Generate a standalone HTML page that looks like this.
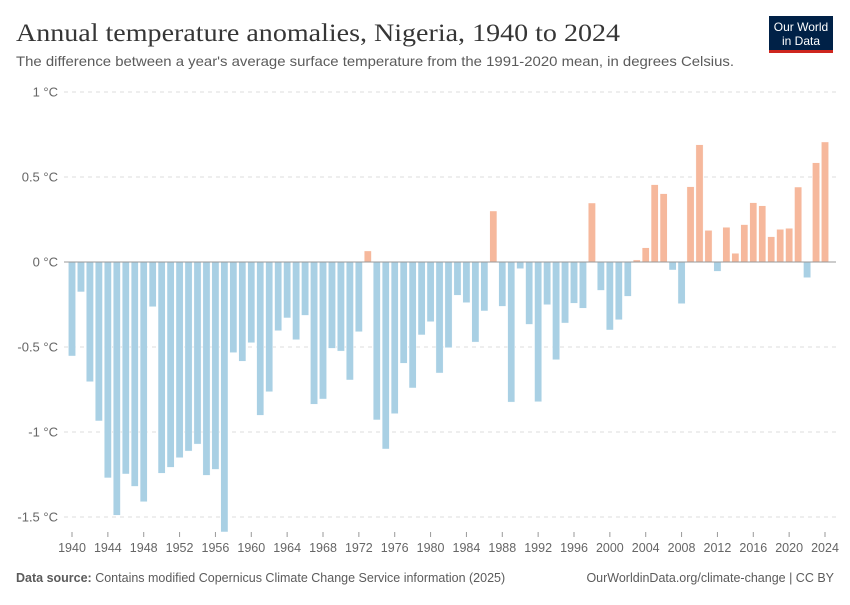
<!DOCTYPE html>
<html><head><meta charset="utf-8"><style>
body{margin:0;background:#fff;width:850px;height:600px;overflow:hidden;font-family:"Liberation Sans",sans-serif}
</style></head><body>
<svg id="chart" width="850" height="600" xmlns="http://www.w3.org/2000/svg">
<text x="16" y="41" font-family="Liberation Serif, serif" font-size="25" fill="#363636" textLength="604" lengthAdjust="spacingAndGlyphs">Annual temperature anomalies, Nigeria, 1940 to 2024</text>
<text x="16" y="66" font-size="14" fill="#5b5b5b" textLength="718" lengthAdjust="spacingAndGlyphs">The difference between a year's average surface temperature from the 1991-2020 mean, in degrees Celsius.</text>
<g>
<rect x="769" y="16" width="64" height="36" fill="#002147"/>
<rect x="769" y="50" width="64" height="3" fill="#ce261e"/>
<text x="801" y="31" font-size="12" fill="#fff" text-anchor="middle">Our World</text>
<text x="801" y="45" font-size="12" fill="#fff" text-anchor="middle">in Data</text>
</g>
<g id="grid"></g><g id="bars"></g><g id="xaxis"></g>
<text x="16" y="582" font-size="12.5" fill="#5b5b5b"><tspan font-weight="bold">Data source:</tspan> Contains modified Copernicus Climate Change Service information (2025)</text>
<text x="834" y="582" font-size="12.5" fill="#5b5b5b" text-anchor="end">OurWorldinData.org/climate-change | CC BY</text>
</svg>
<script>
const years=[];for(let y=1940;y<=2024;y++)years.push(y);
const values=[-0.553,-0.176,-0.704,-0.935,-1.27,-1.49,-1.247,-1.32,-1.41,-0.263,
-1.243,-1.208,-1.151,-1.112,-1.071,-1.255,-1.22,-1.588,-0.533,-0.584,
-0.475,-0.902,-0.763,-0.404,-0.329,-0.457,-0.314,-0.837,-0.806,-0.508,
-0.524,-0.694,-0.41,0.065,-0.929,-1.1,-0.892,-0.596,-0.741,-0.429,
-0.351,-0.653,-0.504,-0.196,-0.239,-0.471,-0.288,0.3,-0.261,-0.824,
-0.039,-0.367,-0.822,-0.251,-0.575,-0.359,-0.243,-0.272,0.347,-0.167,
-0.4,-0.34,-0.202,0.012,0.084,0.455,0.402,-0.047,-0.245,0.443,
0.69,0.186,-0.055,0.204,0.051,0.22,0.349,0.331,0.149,0.192,
0.198,0.441,-0.092,0.584,0.706];
const yTicks=[1,0.5,0,-0.5,-1,-1.5];
const yTickLabels=["1 °C","0.5 °C","0 °C","-0.5 °C","-1 °C","-1.5 °C"];
const xTicks=[1940,1944,1948,1952,1956,1960,1964,1968,1972,1976,1980,1984,1988,1992,1996,2000,2004,2008,2012,2016,2020,2024];
const NS="http://www.w3.org/2000/svg";
const yS=v=>262-v*170;
const xS=y=>72+(y-1940)*(753/84);
function mk(t,a,p){const e=document.createElementNS(NS,t);for(const k in a)e.setAttribute(k,a[k]);p.appendChild(e);return e;}
const grid=document.getElementById('grid');
yTicks.forEach((v,i)=>{
 if(v!==0){const l=mk('line',{x1:64,x2:836,y1:yS(v),y2:yS(v),stroke:'#dddddd','stroke-dasharray':'4,4'},grid);
 
 }
 const t=mk('text',{x:58,y:yS(v)+4.5,'font-size':13,fill:'#666','text-anchor':'end'},grid);
 t.textContent=yTickLabels[i];
 
 
});
const bars=document.getElementById('bars');
years.forEach((y,i)=>{
 const v=values[i];const top=Math.min(yS(v),yS(0));const h=Math.abs(yS(v)-yS(0));
 const r=mk('rect',{x:xS(y)-3.6,y:top,width:7.2,height:Math.max(h,0.5),fill:v>=0?'#f6b89c':'#a9d0e4',stroke:'#fff','stroke-width':0.4},bars);
 
 
});
const xa=document.getElementById('xaxis');
const zl=mk('line',{x1:64,x2:836,y1:262,y2:262,stroke:'#999','stroke-width':1},xa);


xTicks.forEach(y=>{
 const tk=mk('line',{x1:xS(y),x2:xS(y),y1:532,y2:537,stroke:'#999'},xa);
 
 
 const t=mk('text',{x:xS(y),y:552,'font-size':12.5,fill:'#666','text-anchor':'middle'},xa);
 t.textContent=y;
 
 
});
</script>
</body></html>
